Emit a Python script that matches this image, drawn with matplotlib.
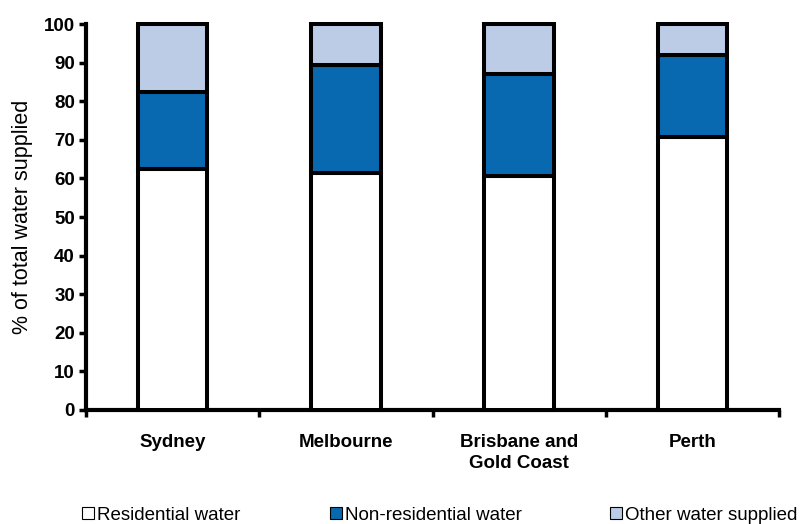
import matplotlib
matplotlib.use("Agg")
import matplotlib.pyplot as plt
from matplotlib.patches import Patch
import numpy as np

plt.rcParams['font.family'] = ['Liberation Sans', 'DejaVu Sans']

cities = ["Sydney", "Melbourne", "Brisbane and\nGold Coast", "Perth"]
residential = [62.5, 61.3, 60.6, 70.8]
non_residential = [19.9, 28.1, 26.4, 21.2]
other = [17.6, 10.6, 13.0, 8.0]
series_names = ["Residential water", "Non-residential water", "Other water supplied"]
colors = ["#FFFFFF", "#0868B0", "#BCCCE6"]
legend_x = [82, 330, 610]

fig = plt.figure(figsize=(8.06, 5.24), dpi=100)
ax = fig.add_axes([86 / 806, 1 - 410 / 524, (779 - 86) / 806, (410 - 24) / 524])

x = np.arange(len(cities)) + 0.5
bottom = np.zeros(len(cities))
for vals, col in zip([residential, non_residential, other], colors):
    ax.bar(x, vals, width=0.4, bottom=bottom, color=col, edgecolor="black",
           linewidth=2.9, clip_on=False, zorder=3)
    bottom += np.array(vals)

ax.set_xlim(0, len(cities))
ax.set_ylim(0, 100)
ax.set_yticks(np.arange(0, 101, 10))
ax.set_xticks(np.arange(0, len(cities) + 1))
ax.set_xticklabels([])
ax.set_xticks(x, minor=True)
ax.set_xticklabels(cities, minor=True, fontweight="bold", fontsize=13.5,
                   linespacing=1.3)
ax.tick_params(axis="x", which="minor", length=0, pad=17)
ax.tick_params(axis="x", which="major", direction="out", length=5, width=2.5)
ax.tick_params(axis="y", direction="out", length=5, width=2.5, pad=3)
for lab in ax.get_yticklabels():
    lab.set_fontweight("bold")
    lab.set_fontsize(13.5)

for side in ["top", "right"]:
    ax.spines[side].set_visible(False)
for side in ["left", "bottom"]:
    ax.spines[side].set_linewidth(3)

ax.set_ylabel("% of total water supplied", fontsize=15.5, labelpad=8)

# one legend entry per series, spaced along the bottom edge
for name, col, lx in zip(series_names, colors, legend_x):
    h = Patch(facecolor=col, edgecolor="black", linewidth=0.8)
    leg = fig.legend([h], [name], loc="center left",
                     bbox_to_anchor=(lx / 806, 1 - 515 / 524),
                     frameon=False, fontsize=13.5, handlelength=0.65,
                     handleheight=0.65, handletextpad=0.15, borderaxespad=0,
                     borderpad=0)

fig.savefig("out.png", dpi=100)
